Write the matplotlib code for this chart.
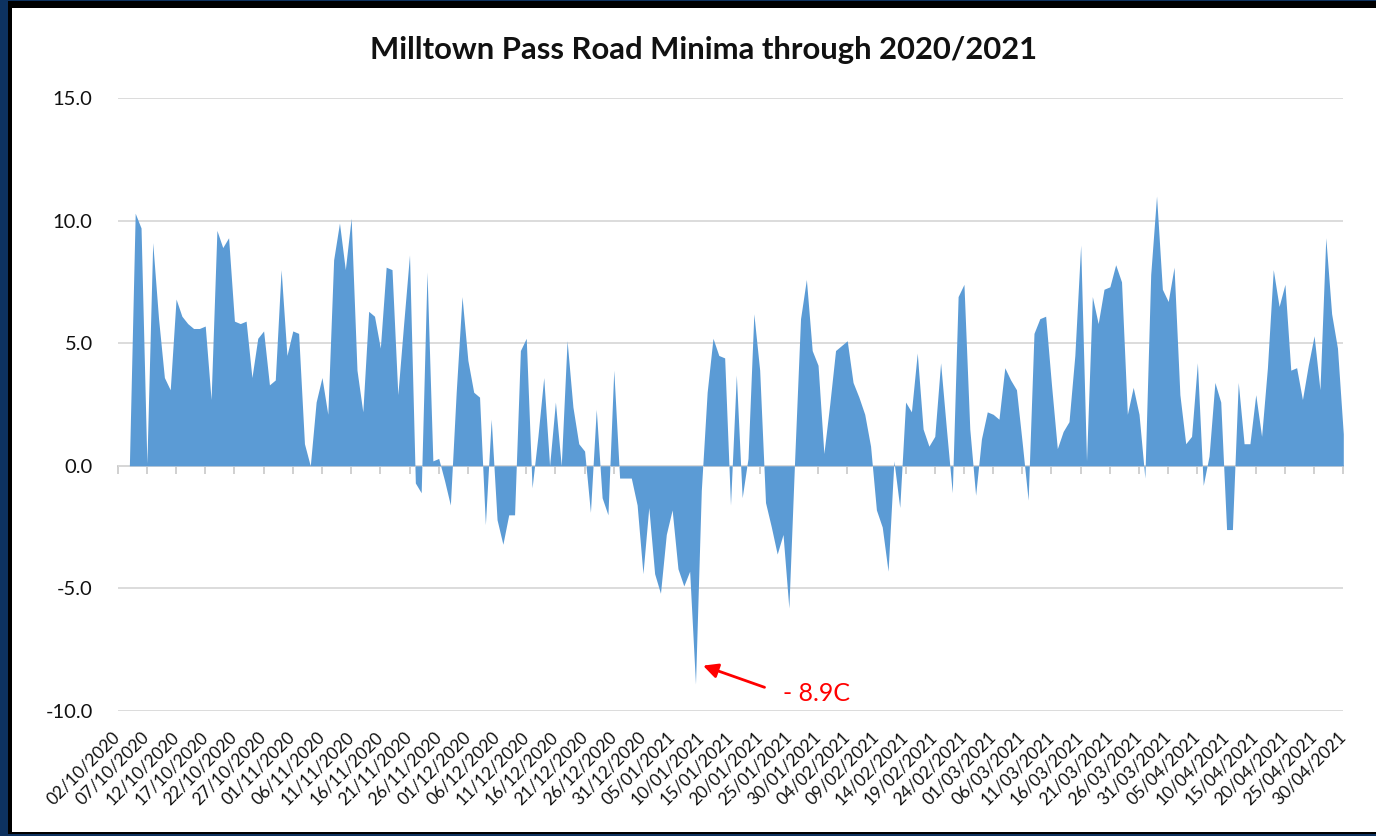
import matplotlib.pyplot as plt
import matplotlib.dates as mdates
import pandas as pd
from matplotlib.patches import Rectangle

# Dane: dzienne minima temperatury (C), 02/10/2020 - 30/04/2021
daty = pd.date_range("2020-10-02", "2021-04-30", freq="D")

minima = [
    0.0, 0.0, 0.0, 10.3, 9.7, 0.1, 9.1, 6.0, 3.6, 3.1,
    6.8, 6.1, 5.8, 5.6, 5.6, 5.7, 2.7, 9.6, 8.9, 9.3,
    5.9, 5.8, 5.9, 3.6, 5.2, 5.5, 3.3, 3.5, 8.0, 4.5,
    5.5, 5.4, 0.9, 0.0, 2.6, 3.6, 2.1, 8.4, 9.9, 8.0,
    10.1, 3.9, 2.2, 6.3, 6.1, 4.8, 8.1, 8.0, 2.9, 5.8,
    8.6, -0.7, -1.1, 7.9, 0.2, 0.3, -0.6, -1.6, 3.0, 6.9,
    4.3, 3.0, 2.8, -2.4, 1.9, -2.2, -3.2, -2.0, -2.0, 4.7,
    5.2, -0.9, 1.2, 3.6, 0.0, 2.6, 0.0, 5.1, 2.4, 0.9,
    0.6, -1.9, 2.3, -1.3, -2.0, 3.9, -0.5, -0.5, -0.5, -1.6,
    -4.4, -1.7, -4.4, -5.2, -2.8, -1.8, -4.2, -4.9, -4.3, -8.9,
    -1.0, 3.0, 5.2, 4.5, 4.4, -1.6, 3.7, -1.3, 0.3, 6.2,
    3.9, -1.5, -2.5, -3.6, -2.8, -5.8, 0.3, 6.0, 7.6, 4.7,
    4.1, 0.5, 2.5, 4.7, 4.9, 5.1, 3.4, 2.8, 2.1, 0.8,
    -1.8, -2.5, -4.3, 0.2, -1.7, 2.6, 2.2, 4.6, 1.5, 0.8,
    1.2, 4.2, 1.5, -1.1, 6.9, 7.4, 1.5, -1.2, 1.1, 2.2,
    2.1, 1.9, 4.0, 3.5, 3.1, 0.9, -1.4, 5.4, 6.0, 6.1,
    3.3, 0.7, 1.4, 1.8, 4.5, 9.0, 0.2, 6.9, 5.8, 7.2,
    7.3, 8.2, 7.5, 2.1, 3.2, 2.1, -0.5, 7.8, 11.0, 7.2,
    6.7, 8.1, 2.9, 0.9, 1.2, 4.2, -0.8, 0.4, 3.4, 2.6,
    -2.6, -2.6, 3.4, 0.9, 0.9, 2.9, 1.2, 4.0, 8.0, 6.5,
    7.4, 3.9, 4.0, 2.7, 4.1, 5.3, 3.1, 9.3, 6.2, 4.8,
    1.3,
]

etykiety_x = daty[::5]
etykiety_y = [-10, -5, 0, 5, 10, 15]
tytul = "Milltown Pass Road Minima through 2020/2021"

plt.rcParams['font.family'] = ['Lato', 'DejaVu Sans']

fig = plt.figure(figsize=(13.76, 8.36), dpi=100)
fig.patch.set_facecolor('#0d3260')

# ramka wykresu (czarna obwodka + biale tlo)
fig.add_artist(Rectangle((8 / 1376, 2 / 836), 1, 833 / 836, transform=fig.transFigure,
                         facecolor='black', edgecolor='none', zorder=-2))
fig.add_artist(Rectangle((12 / 1376, 4 / 836), 1, 824 / 836, transform=fig.transFigure,
                         facecolor='white', edgecolor='none', zorder=-1))

ax = fig.add_axes([117.7 / 1376, 1 - 711 / 836, 1225.6 / 1376, 613 / 836])
ax.set_facecolor('none')

ax.fill_between(daty, minima, 0, color='#5B9BD5', linewidth=0, zorder=2)

ymin, ymax = -10, 15
ax.set_xlim(daty[0], daty[-1])
ax.set_ylim(ymin, ymax)

# os Y
ax.set_yticks(etykiety_y)
ax.set_yticklabels([f"{v:.1f}" for v in etykiety_y])
ax.tick_params(axis='y', length=0, pad=18, labelsize=14.5, labelcolor='#111111')
ax.grid(axis='y', color='#D9D9D9', linewidth=1.3)
ax.set_axisbelow(True)
for s in ax.spines.values():
    s.set_visible(False)

# os X - etykiety na dole
ax.set_xticks(etykiety_x)
ax.set_xticklabels([d.strftime('%d/%m/%Y') for d in etykiety_x],
                   rotation=45, ha='right', va='center', rotation_mode='anchor')
ax.tick_params(axis='x', length=0, pad=17, labelsize=12.5, labelcolor='#111111')

# linia osi kategorii na poziomie zera z kreskami
poz_zera = (0 - ymin) / (ymax - ymin)
sec = ax.secondary_xaxis(poz_zera)
sec.set_xticks(mdates.date2num(etykiety_x))
sec.tick_params(axis='x', direction='out', length=6, width=1.2, color='#C8C8C8',
                labelbottom=False, labeltop=False)
sec.spines['bottom'].set_color('#C8C8C8')
sec.spines['bottom'].set_linewidth(1.3)

# tytul
fig.text(703.5 / 1376, 1 - 50 / 836, tytul, ha='center', va='center',
         fontsize=22.3, fontweight='bold', color='#111111')

# adnotacja minimum
i_min = min(range(len(minima)), key=lambda i: minima[i])
ax.annotate(f"- {abs(minima[i_min]):.1f}C",
            xy=(daty[i_min] + pd.Timedelta(days=1.3), minima[i_min] + 0.75),
            xytext=(daty[i_min] + pd.Timedelta(days=15), minima[i_min] - 0.4),
            color='red', fontsize=18, ha='left', va='center',
            arrowprops=dict(arrowstyle='-|>', color='red', lw=2,
                            mutation_scale=22, shrinkA=12, shrinkB=0,
                            relpos=(0, 0.5)))

fig.savefig('out.png', dpi=100, facecolor=fig.get_facecolor())
